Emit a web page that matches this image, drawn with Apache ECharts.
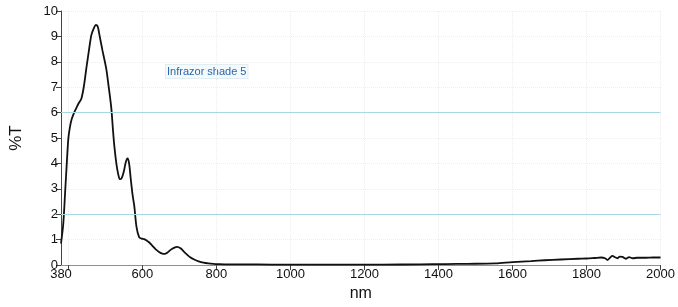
<!DOCTYPE html>
<html>
<head>
<meta charset="utf-8">
<script src="https://cdn.jsdelivr.net/npm/echarts@6/dist/echarts.min.js"></script>
<style>
html, body { margin: 0; padding: 0; background: #ffffff; }
#main { width: 678px; height: 307px; }
</style>
</head>
<body>
<div id="main"></div>
<script>
// wavelength (nm) and %T
var wavelengths = [380, 386, 391, 396, 400, 405, 409, 415, 422, 428, 435, 442, 449, 456, 462, 468, 474, 479, 484, 492, 502, 509, 516, 520, 524, 530, 535, 539, 544, 550, 555, 560, 564, 569, 574, 578, 584, 591, 598, 605, 612, 618, 627, 636, 645, 654, 660, 668, 676, 685, 694, 703, 712, 720, 729, 740, 752, 765, 778, 792, 805, 830, 870, 950, 1050, 1150, 1250, 1350, 1420, 1480, 1554, 1600, 1650, 1687, 1730, 1777, 1800, 1821, 1840, 1850, 1857, 1864, 1870, 1877, 1883, 1890, 1897, 1906, 1915, 1925, 1937, 1960, 1980, 2000];
var transmittance = [0.85, 1.6, 2.83, 4.1, 5.0, 5.5, 5.75, 5.98, 6.2, 6.38, 6.55, 7.05, 7.8, 8.5, 9.05, 9.3, 9.45, 9.4, 9.05, 8.45, 7.75, 7.0, 6.17, 5.4, 4.7, 3.95, 3.55, 3.38, 3.42, 3.7, 4.05, 4.2, 4.0, 3.32, 2.7, 2.33, 1.5, 1.1, 1.04, 1.02, 0.96, 0.9, 0.76, 0.62, 0.52, 0.45, 0.44, 0.5, 0.6, 0.68, 0.72, 0.66, 0.53, 0.42, 0.31, 0.22, 0.15, 0.1, 0.07, 0.05, 0.04, 0.03, 0.03, 0.02, 0.02, 0.02, 0.02, 0.03, 0.04, 0.05, 0.07, 0.12, 0.16, 0.19, 0.22, 0.25, 0.26, 0.28, 0.3, 0.27, 0.2, 0.3, 0.36, 0.31, 0.27, 0.33, 0.32, 0.25, 0.31, 0.27, 0.29, 0.29, 0.3, 0.3];
var xLabels = [380, 600, 800, 1000, 1200, 1400, 1600, 1800, 2000];
var xTicks = [400, 600, 800, 1000, 1200, 1400, 1600, 1800, 2000];
var guideLines = [2, 6];

var points = wavelengths.map(function (w, i) { return [w, transmittance[i]]; });

var faint = '#e9f0f2';
var cyan = '#a8d8e1';

var myChart = echarts.init(document.getElementById('main'));
myChart.setOption({
    animation: false,
    backgroundColor: '#ffffff',
    textStyle: { fontFamily: 'Liberation Sans, Arial, sans-serif' },
    grid: { left: 61, right: 11, top: 11, bottom: 31 },
    xAxis: {
        type: 'value',
        min: 380,
        max: 2000,
        interval: 20,
        name: 'nm',
        nameLocation: 'middle',
        nameGap: 17,
        nameTextStyle: { fontSize: 16, color: '#111', verticalAlign: 'top' },
        axisLine: { lineStyle: { color: '#7a98a3', width: 1 } },
        axisTick: { length: 5, lineStyle: { color: '#444' }, customValues: xTicks },
        axisLabel: {
            customValues: xLabels, fontSize: 13, color: '#111', margin: 3,
            formatter: function (v) { return String(v); }
        },
        splitLine: { show: true, lineStyle: { color: faint, type: 'dotted' } }
    },
    yAxis: {
        type: 'value',
        min: 0,
        max: 10,
        interval: 1,
        name: '%T',
        nameLocation: 'middle',
        nameGap: 36,
        nameTextStyle: { fontSize: 17, color: '#111' },
        axisLine: { show: true, lineStyle: { color: '#444', width: 1 } },
        axisTick: { show: true, length: 5, lineStyle: { color: '#444' } },
        axisLabel: { fontSize: 13, color: '#111', margin: 3 },
        splitLine: { show: true, lineStyle: { color: faint, type: 'dotted' } }
    },
    graphic: [{
        type: 'text',
        left: 165,
        top: 64,
        style: {
            text: 'Infrazor shade 5',
            fill: '#2a67a8',
            font: '11px Liberation Sans, Arial, sans-serif',
            backgroundColor: '#f4f9fb',
            borderColor: '#e0edf2',
            borderWidth: 1,
            padding: [1, 1]
        }
    }],
    series: [{
        type: 'line',
        data: points,
        smooth: 0.3,
        showSymbol: false,
        lineStyle: { color: '#111', width: 1.8 },
        markLine: {
            silent: true,
            symbol: 'none',
            label: { show: false },
            lineStyle: { color: cyan, type: 'solid', width: 1 },
            emphasis: { disabled: true },
            data: guideLines.map(function (v) { return { yAxis: v, lineStyle: { color: cyan } }; })
        },
        z: 3
    }]
});
</script>
</body>
</html>
